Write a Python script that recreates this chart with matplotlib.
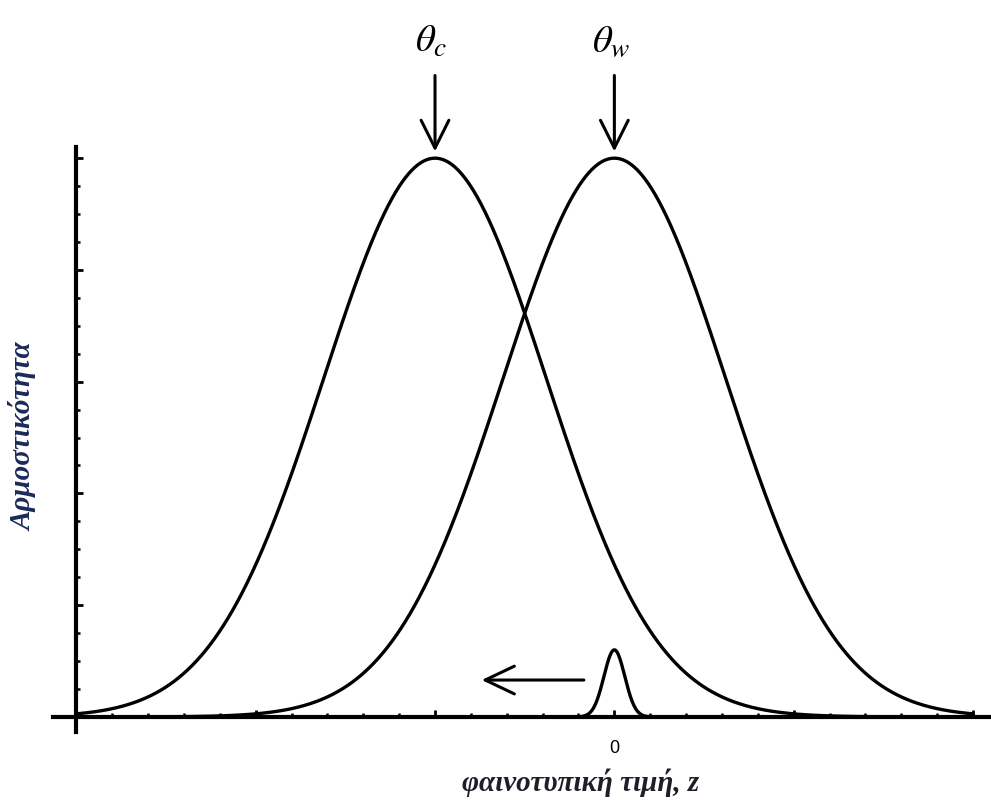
import numpy as np
import matplotlib
matplotlib.use("Agg")
import matplotlib.pyplot as plt
from matplotlib.ticker import MultipleLocator, FuncFormatter

# Fitness optima (old and new) and the shared width of the fitness surface
optimum_names = ["c", "w"]
optima = [-1.0, 0.0]
fitness_width = 0.62
peak_fitness = 1.0

# Narrow phenotype distribution of the population, sitting at the old optimum
pop_mean = 0.0
pop_sd = 0.058
pop_height = 0.12

# Direction of the shift in mean phenotype
shift_from = -0.17
shift_to = -0.74
shift_level = 0.066

z_range = (-3.0, 2.0)
x_limits = (-3.13, 2.10)
y_limits = (-0.027, 1.02)

plt.rcParams["mathtext.fontset"] = "stix"

fig = plt.figure(figsize=(9.91, 8.03), dpi=100)
ax = fig.add_axes([53 / 991, 70 / 803, 938 / 991, 585 / 803])

z = np.linspace(z_range[0], z_range[1], 1200)
for theta in optima:
    w = peak_fitness * np.exp(-(z - theta) ** 2 / (2 * fitness_width ** 2))
    ax.plot(z, w, color="black", lw=2.4, solid_capstyle="round", zorder=3)

zp = np.linspace(pop_mean - 0.25, pop_mean + 0.25, 300)
p = pop_height * np.exp(-(zp - pop_mean) ** 2 / (2 * pop_sd ** 2))
ax.plot(zp, p, color="black", lw=2.4, zorder=3)

ax.annotate("", xy=(shift_to, shift_level), xytext=(shift_from, shift_level),
            arrowprops=dict(arrowstyle="->, head_length=2.1, head_width=1.0",
                            lw=2.2, color="black", mutation_scale=10,
                            shrinkA=0, shrinkB=0))

# Labels and arrows pointing at each optimum
for name, theta in zip(optimum_names, optima):
    ax.annotate("", xy=(theta, 1.012), xytext=(theta, 1.148),
                xycoords="data", annotation_clip=False,
                arrowprops=dict(arrowstyle="->, head_length=2.0, head_width=1.0",
                                lw=2.2, color="black", mutation_scale=10,
                                shrinkA=0, shrinkB=0))
    ax.text(theta - 0.02, 1.178, r"$\theta_{%s}$" % name, fontsize=28,
            ha="center", va="bottom", color="black", clip_on=False)

ax.set_xlim(*x_limits)
ax.set_ylim(*y_limits)

for side in ("top", "right"):
    ax.spines[side].set_visible(False)
ax.spines["left"].set_position(("data", z_range[0]))
ax.spines["bottom"].set_position(("data", 0.0))
for side in ("left", "bottom"):
    ax.spines[side].set_linewidth(3.0)
    ax.spines[side].set_zorder(4)

ax.xaxis.set_major_locator(MultipleLocator(1.0))
ax.xaxis.set_minor_locator(MultipleLocator(0.2))
ax.yaxis.set_major_locator(MultipleLocator(0.2))
ax.yaxis.set_minor_locator(MultipleLocator(0.05))
ax.xaxis.set_major_formatter(FuncFormatter(lambda v, pos: "0" if abs(v) < 1e-9 else ""))
ax.yaxis.set_major_formatter(FuncFormatter(lambda v, pos: ""))
ax.tick_params(which="major", direction="in", length=5, width=2.0, labelsize=13,
               pad=16, labelfontfamily="Liberation Sans")
ax.tick_params(which="minor", direction="in", length=3, width=1.8)

fig.text(581 / 991, 20 / 803, "φαινοτυπική τιμή, z",
         ha="center", va="center",
         fontsize=21, fontweight="bold", fontstyle="italic",
         family="Liberation Serif", color="#1e1e28")
fig.text(24 / 991, 1 - 437 / 803, "Αρμοστικότητα",
         ha="center", va="center", rotation=90,
         fontsize=21, fontweight="bold", fontstyle="italic",
         family="Liberation Serif", color="#1c2a5a")

fig.savefig("out.png", dpi=100, facecolor="white")
